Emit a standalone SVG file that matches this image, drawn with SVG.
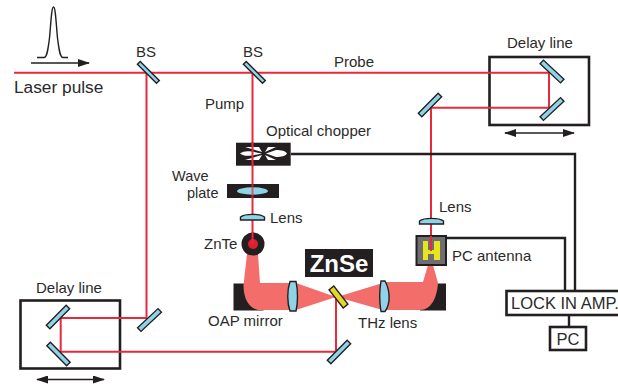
<svg xmlns="http://www.w3.org/2000/svg" width="618" height="387" viewBox="0 0 618 387">
<defs>
<style>
text{font-family:"Liberation Sans",Arial,sans-serif;font-size:15px;fill:#2b2a2b}
.beam{fill:none;stroke:#e8283c;stroke-width:2}
.wire{fill:none;stroke:#231f20;stroke-width:2.4}
.box{fill:#fff;stroke:#231f20;stroke-width:2.6}
.mirror{fill:#8fd3e8;stroke:#231f20;stroke-width:1.4}
.pink{fill:#f36d6b}
.blk{fill:#231f20}
.arr{fill:none;stroke:#231f20;stroke-width:1.6}
</style>
<marker id="ah" markerWidth="12" markerHeight="8" refX="11" refY="4" orient="auto-start-reverse" markerUnits="userSpaceOnUse"><path d="M0,0L12,4L0,8z" fill="#231f20"/></marker>
</defs>
<g id="pulse">
<path d="M37,57.500H44C47,57.500 48,50 49.500,38C51,22 51.500,7 53.500,7C55.500,7 56,22 57.500,38C59,50 60,57.500 63,57.500H68" fill="none" stroke="#231f20" stroke-width="1.400"/>
<path d="M31,63H89" class="arr" marker-end="url(#ah)"/>
<text x="14" y="93" style="font-size:17.300px">Laser pulse</text>
</g>
<g id="delay-top">
<rect x="489.500" y="57" width="99.500" height="68" class="box"/>
<path d="M505,133H574" class="arr" marker-start="url(#ah)" marker-end="url(#ah)"/>
<text x="507" y="48">Delay line</text>
</g>
<g id="delay-bottom">
<rect x="20.500" y="300.500" width="99.500" height="68" class="box"/>
<path d="M37,379.500H104" class="arr" marker-start="url(#ah)" marker-end="url(#ah)"/>
<text x="36" y="293">Delay line</text>
</g>
<g id="oap-mirror">
<rect x="233.500" y="283.500" width="30" height="27" class="blk"/>
<rect x="420" y="283.500" width="26" height="27" class="blk"/>
</g>
<g id="terahertz-beam">
<path d="M247,254H258L260,283H291V310H258C249,308 243.500,299 243.500,285Z" class="pink"/>
<path d="M296,283L336,297L296,310Z" class="pink"/>
<path d="M386,282L337,297L386,311Z" class="pink"/>
<path d="M386,282H423L428,265H433L438,283C437,298 431,310 420,310H386Z" class="pink"/>
</g>
<g id="connectors">
<path d="M14,72.700H549V107.700H431V251" class="beam"/>
<path d="M146.500,72.700V318H60.700V351.700H336V297" class="beam"/>
<path d="M252.500,72.700V244" class="beam"/>
<path d="M291,154H575V291" class="wire"/>
<path d="M446,238H565V291" class="wire"/>
<path d="M569,315V327" class="wire"/>
</g>
<g id="bs-1"><rect x="135" y="70" width="27" height="4" class="mirror" transform="rotate(45 148 72)"/><text x="136" y="57">BS</text></g>
<g id="bs-2"><rect x="241" y="70" width="27" height="4" class="mirror" transform="rotate(45 254 72)"/><text x="243" y="57">BS</text></g>
<text x="205" y="109">Pump</text>
<text x="334" y="67">Probe</text>
<g id="mirrors-top">
<rect x="538" y="69" width="28" height="5" class="mirror" transform="rotate(43 552 71.500)"/>
<rect x="538" y="106.500" width="28" height="5" class="mirror" transform="rotate(-43 552 109)"/>
<rect x="416" y="102.500" width="28" height="5" class="mirror" transform="rotate(-45 430 105)"/>
</g>
<g id="mirrors-bottom">
<rect x="44" y="314.500" width="28" height="5" class="mirror" transform="rotate(-45 58 317)"/>
<rect x="44.500" y="351.500" width="28" height="5" class="mirror" transform="rotate(45 58.500 354)"/>
<rect x="135.500" y="317.500" width="28" height="5" class="mirror" transform="rotate(-43 149.500 320)"/>
<rect x="325" y="349.500" width="28" height="5" class="mirror" transform="rotate(-45 339 352)"/>
</g>
<g id="chopper">
<rect x="236" y="142.700" width="54.700" height="23" class="blk"/>
<path d="M240,153.500C245,150 250,151 262,153.500C250,156 245,157 240,153.500ZM266,153.500L276,150C281,150 286,151 287,153.500C286,156 281,157 276,157ZM245,147H259L262,152ZM265,152L268,147H276ZM245,160H259L262,155ZM265,155L268,160H276Z" fill="#fff"/>
<path d="M252.500,142.700V165.700" class="beam"/>
<text x="266" y="136">Optical chopper</text>
</g>
<g id="wave-plate">
<rect x="227" y="184" width="52" height="14" class="blk"/>
<ellipse cx="252.500" cy="191" rx="15.500" ry="3.700" fill="#8fd3e8"/>
<path d="M252.500,184V198" class="beam" opacity=".7"/>
<text x="172" y="181" style="font-size:14.500px">Wave</text>
<text x="187" y="198" style="font-size:14.500px">plate</text>
</g>
<g id="lens-left">
<path d="M240.500,220V217C245,213.500 260,213.500 264.500,217V220Z" class="mirror"/>
<text x="270" y="223">Lens</text>
</g>
<g id="znte">
<circle cx="253" cy="244" r="11.500" fill="#231f20"/>
<circle cx="253" cy="244" r="5" fill="#e01e2e"/>
<path d="M252.500,232V244" class="beam"/>
<text x="204" y="249">ZnTe</text>
</g>
<g id="znse">
<rect x="305" y="249" width="68" height="28" class="blk"/>
<text x="339" y="271.500" text-anchor="middle" style="font-size:24px;font-weight:bold;fill:#fff">ZnSe</text>
</g>
<g id="lenses">
<path d="M290,281.500H296C298,290 298,303 296,311H290C287,303 287,290 290,281.500Z" class="mirror"/>
<path d="M381,281H385C390,290 391,303 385,311.500H381C379.500,303 379.500,290 381,281Z" class="mirror"/>
</g>
<g id="emitter"><rect x="327" y="294" width="23" height="6" fill="#e6d62a" stroke="#231f20" stroke-width="1.400" transform="rotate(52 338.500 297)"/></g>
<text x="208" y="326">OAP mirror</text>
<text x="358" y="328">THz lens</text>
<g id="lens-right">
<path d="M419.500,224V221C424,217.500 439,217.500 443.500,221V224Z" class="mirror"/>
<text x="439" y="212">Lens</text>
</g>
<g id="pc-antenna">
<rect x="416.500" y="236" width="29.500" height="29" fill="#6d6e71" stroke="#231f20" stroke-width="2"/>
<path d="M423,241H428V250H434V241H440V260H434V254H428V260H423Z" fill="#e8e41e"/>
<path d="M431,236V251" class="beam"/>
<text x="452" y="261">PC antenna</text>
</g>
<g id="lockin">
<rect x="506.500" y="291" width="115" height="24" class="box"/>
<text x="511" y="309" style="font-size:16.500px">LOCK IN AMP.</text>
</g>
<g id="pc">
<rect x="550" y="327" width="36" height="23" class="box"/>
<text x="568" y="345" text-anchor="middle" style="font-size:16.500px">PC</text>
</g>
</svg>
